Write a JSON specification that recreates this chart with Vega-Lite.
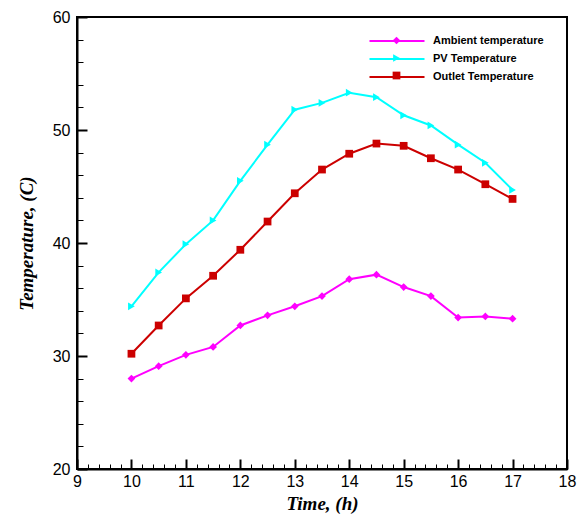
{
  "$schema": "https://vega.github.io/schema/vega-lite/v6.json",
  "width": 490,
  "height": 452,
  "autosize": "none",
  "padding": {"left": 77, "top": 17, "right": 21, "bottom": 48},
  "background": "white",
  "config": {
    "view": {"stroke": "black", "strokeWidth": 2},
    "font": "Liberation Sans"
  },
  "resolve": {"axis": {"x": "independent", "y": "independent"}},
  "data": {
    "values": [
      {"time": 10, "temp": 28.0, "series": "Ambient temperature"},
      {"time": 10.5, "temp": 29.1, "series": "Ambient temperature"},
      {"time": 11, "temp": 30.1, "series": "Ambient temperature"},
      {"time": 11.5, "temp": 30.8, "series": "Ambient temperature"},
      {"time": 12, "temp": 32.7, "series": "Ambient temperature"},
      {"time": 12.5, "temp": 33.6, "series": "Ambient temperature"},
      {"time": 13, "temp": 34.4, "series": "Ambient temperature"},
      {"time": 13.5, "temp": 35.3, "series": "Ambient temperature"},
      {"time": 14, "temp": 36.8, "series": "Ambient temperature"},
      {"time": 14.5, "temp": 37.2, "series": "Ambient temperature"},
      {"time": 15, "temp": 36.1, "series": "Ambient temperature"},
      {"time": 15.5, "temp": 35.3, "series": "Ambient temperature"},
      {"time": 16, "temp": 33.4, "series": "Ambient temperature"},
      {"time": 16.5, "temp": 33.5, "series": "Ambient temperature"},
      {"time": 17, "temp": 33.3, "series": "Ambient temperature"},
      {"time": 10, "temp": 34.4, "series": "PV Temperature"},
      {"time": 10.5, "temp": 37.4, "series": "PV Temperature"},
      {"time": 11, "temp": 39.9, "series": "PV Temperature"},
      {"time": 11.5, "temp": 42.0, "series": "PV Temperature"},
      {"time": 12, "temp": 45.5, "series": "PV Temperature"},
      {"time": 12.5, "temp": 48.7, "series": "PV Temperature"},
      {"time": 13, "temp": 51.8, "series": "PV Temperature"},
      {"time": 13.5, "temp": 52.4, "series": "PV Temperature"},
      {"time": 14, "temp": 53.3, "series": "PV Temperature"},
      {"time": 14.5, "temp": 52.9, "series": "PV Temperature"},
      {"time": 15, "temp": 51.3, "series": "PV Temperature"},
      {"time": 15.5, "temp": 50.4, "series": "PV Temperature"},
      {"time": 16, "temp": 48.7, "series": "PV Temperature"},
      {"time": 16.5, "temp": 47.1, "series": "PV Temperature"},
      {"time": 17, "temp": 44.7, "series": "PV Temperature"},
      {"time": 10, "temp": 30.2, "series": "Outlet Temperature"},
      {"time": 10.5, "temp": 32.7, "series": "Outlet Temperature"},
      {"time": 11, "temp": 35.1, "series": "Outlet Temperature"},
      {"time": 11.5, "temp": 37.1, "series": "Outlet Temperature"},
      {"time": 12, "temp": 39.4, "series": "Outlet Temperature"},
      {"time": 12.5, "temp": 41.9, "series": "Outlet Temperature"},
      {"time": 13, "temp": 44.4, "series": "Outlet Temperature"},
      {"time": 13.5, "temp": 46.5, "series": "Outlet Temperature"},
      {"time": 14, "temp": 47.9, "series": "Outlet Temperature"},
      {"time": 14.5, "temp": 48.8, "series": "Outlet Temperature"},
      {"time": 15, "temp": 48.6, "series": "Outlet Temperature"},
      {"time": 15.5, "temp": 47.5, "series": "Outlet Temperature"},
      {"time": 16, "temp": 46.5, "series": "Outlet Temperature"},
      {"time": 16.5, "temp": 45.2, "series": "Outlet Temperature"},
      {"time": 17, "temp": 43.9, "series": "Outlet Temperature"}
    ]
  },
  "layer": [
    {
      "mark": {"type": "line", "strokeWidth": 2},
      "encoding": {
        "x": {
          "field": "time", "type": "quantitative",
          "scale": {"domain": [9, 18], "nice": false, "zero": false},
          "axis": {
            "orient": "bottom",
            "values": [9, 10, 11, 12, 13, 14, 15, 16, 17, 18],
            "format": "d",
            "grid": false,
            "labelFlush": false,
            "tickSize": -10, "tickWidth": 2, "tickColor": "black",
            "domainColor": "black", "domainWidth": 2,
            "labelFont": "Liberation Sans", "labelFontSize": 16, "labelColor": "black",
            "labelPadding": 14,
            "title": "Time, (h)",
            "titleFont": "Liberation Serif", "titleFontSize": 19,
            "titleFontStyle": "italic", "titleFontWeight": "bold", "titleColor": "black",
            "titlePadding": 5
          }
        },
        "y": {
          "field": "temp", "type": "quantitative",
          "scale": {"domain": [20, 60], "nice": false, "zero": false},
          "axis": {
            "orient": "left",
            "values": [20, 30, 40, 50, 60],
            "grid": false,
            "labelFlush": false,
            "tickSize": -10, "tickWidth": 2, "tickColor": "black",
            "domainColor": "black", "domainWidth": 2,
            "labelFont": "Liberation Sans", "labelFontSize": 16, "labelColor": "black",
            "labelPadding": 17,
            "title": "Temperature, (C)",
            "titleFont": "Liberation Serif", "titleFontSize": 19,
            "titleFontStyle": "italic", "titleFontWeight": "bold", "titleColor": "black",
            "titlePadding": 16
          }
        },
        "color": {
          "field": "series", "type": "nominal",
          "sort": ["Ambient temperature", "PV Temperature", "Outlet Temperature"],
          "scale": {"range": ["#FF00FF", "#00FFFF", "#CC0000"]},
          "legend": {
            "title": null,
            "orient": "none",
            "legendX": 314,
            "legendY": 18,
            "padding": 0,
            "symbolType": "M-5.5,0H5.5",
            "symbolSize": 100,
            "symbolStrokeWidth": 2,
            "labelOffset": 30,
            "rowPadding": 7,
            "labelFont": "Liberation Sans",
            "labelFontSize": 11,
            "labelFontWeight": "bold",
            "labelColor": "black"
          }
        }
      }
    },
    {
      "mark": {"type": "point", "filled": true, "opacity": 1, "size": 60},
      "encoding": {
        "x": {
          "field": "time", "type": "quantitative",
          "axis": {
            "orient": "bottom",
            "values": [9.2, 9.4, 9.6, 9.8, 10.2, 10.4, 10.6, 10.8, 11.2, 11.4, 11.6, 11.8, 12.2, 12.4, 12.6, 12.8, 13.2, 13.4, 13.6, 13.8, 14.2, 14.4, 14.6, 14.8, 15.2, 15.4, 15.6, 15.8, 16.2, 16.4, 16.6, 16.8, 17.2, 17.4, 17.6, 17.8],
            "labels": false, "domain": false, "grid": false,
            "tickSize": -5, "tickWidth": 1, "tickColor": "black",
            "title": null
          }
        },
        "y": {
          "field": "temp", "type": "quantitative",
          "axis": {
            "orient": "left",
            "values": [22, 24, 26, 28, 32, 34, 36, 38, 42, 44, 46, 48, 52, 54, 56, 58],
            "labels": false, "domain": false, "grid": false,
            "tickSize": -6, "tickWidth": 1, "tickColor": "black",
            "title": null
          }
        },
        "fill": {
          "field": "series", "type": "nominal",
          "scale": {
            "domain": ["Ambient temperature", "PV Temperature", "Outlet Temperature"],
            "range": ["#FF00FF", "#00FFFF", "#CC0000"]
          },
          "legend": {
            "title": null,
            "orient": "none",
            "legendX": 314,
            "legendY": 18,
            "padding": 0,
            "symbolSize": 60,
            "labelExpr": "''",
            "rowPadding": 2.5,
            "labelFontSize": 11,
            "labelOffset": 0
          }
        },
        "shape": {
          "field": "series", "type": "nominal",
          "scale": {
            "domain": ["Ambient temperature", "PV Temperature", "Outlet Temperature"],
            "range": ["diamond", "triangle-right", "square"]
          },
          "legend": {
            "title": null,
            "orient": "none",
            "legendX": 314,
            "legendY": 18,
            "padding": 0,
            "symbolSize": 60,
            "labelExpr": "''",
            "rowPadding": 2.5,
            "labelFontSize": 11,
            "labelOffset": 0
          }
        }
      }
    }
  ]
}
